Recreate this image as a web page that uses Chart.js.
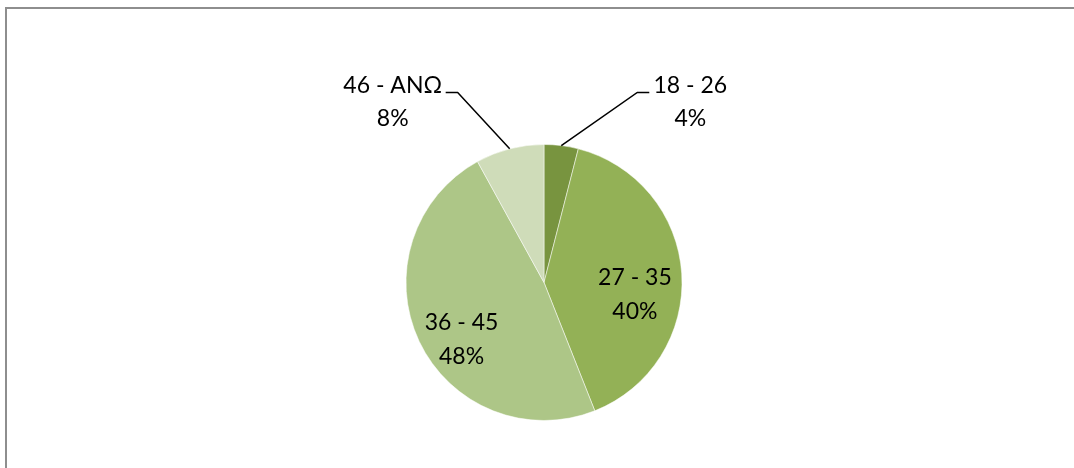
<!DOCTYPE html>
<html lang="el">
<head>
  <meta charset="UTF-8" />
  <title>Pie Chart</title>
  <style>
    body { margin: 0; background: #fff; overflow: hidden; }
    #wrap { position: relative; width: 1074px; height: 468px; overflow: hidden; }
    #frame { position: absolute; left: 5px; top: 7px; width: 1300px; height: 700px;
             border-left: 2px solid #8e8e8e; border-top: 2px solid #8e8e8e; }
    canvas { position: absolute; left: 0; top: 0; }
  </style>
</head>
<body>
  <div id="wrap">
    <div id="frame"></div>
    <canvas id="myChart" width="1074" height="468"></canvas>
  </div>

  <script src="https://cdn.jsdelivr.net/npm/chart.js"></script>

  <script>
    // data
    const labels = ['18 - 26', '27 - 35', '36 - 45', '46 - ΑΝΩ'];
    const values = [4, 40, 48, 8];
    const colors = ['#78943f', '#93b156', '#adc687', '#cfdcb9'];

    const total = values.reduce((a, b) => a + b, 0);

    // draws the category / percent labels and leader lines
    const pieLabels = {
      id: 'pieLabels',
      afterDatasetsDraw(chart, args, opts) {
        const ctx = chart.ctx;
        const arcs = chart.getDatasetMeta(0).data;
        ctx.save();
        ctx.font = '23px Lato';
        ctx.fillStyle = '#000';
        ctx.textAlign = 'center';
        ctx.textBaseline = 'middle';
        arcs.forEach((arc, i) => {
          const { x, y, startAngle, endAngle, outerRadius } = arc.getProps(['x', 'y', 'startAngle', 'endAngle', 'outerRadius']);
          const mid = (startAngle + endAngle) / 2;
          const pct = Math.round(values[i] / total * 100) + '%';
          const lead = opts.leaders[i];
          if (!lead) {
            const r = outerRadius * 0.66;
            const tx = x + Math.cos(mid) * r;
            const ty = y + Math.sin(mid) * r;
            ctx.fillText(labels[i], tx, ty + 1);
            ctx.fillText(pct, tx, ty + 35);
          } else {
            const ex = x + Math.cos(mid) * outerRadius;
            const ey = y + Math.sin(mid) * outerRadius;
            const side = Math.sign(lead.elbow);
            const ky = y - outerRadius - 52;
            const kx = ex + lead.elbow;
            const hx = kx + side * 12;
            ctx.strokeStyle = '#000';
            ctx.lineWidth = 1.5;
            ctx.beginPath();
            ctx.moveTo(ex, ey);
            ctx.lineTo(kx, ky);
            ctx.lineTo(hx, ky);
            ctx.stroke();
            const tx = hx + lead.text;
            ctx.fillText(labels[i], tx, ky - 7);
            ctx.fillText(pct, tx, ky + 26);
          }
        });
        ctx.restore();
      }
    };

    const context = document.getElementById('myChart').getContext('2d');
    const myChart = new Chart(context, {
      type: 'pie',
      data: {
        labels: labels,
        datasets: [{
          data: values,
          backgroundColor: colors,
          borderColor: 'rgba(255,255,255,0.5)',
          borderWidth: 1
        }]
      },
      options: {
        responsive: false,
        animation: false,
        layout: { padding: { top: 144, bottom: 47, left: 14, right: 0 } },
        plugins: {
          legend: { display: false },
          tooltip: { enabled: false },
          pieLabels: {
            leaders: { 0: { elbow: 76, text: 41 }, 3: { elbow: -52, text: -53 } }
          }
        }
      },
      plugins: [pieLabels]
    });
  </script>
</body>
</html>
